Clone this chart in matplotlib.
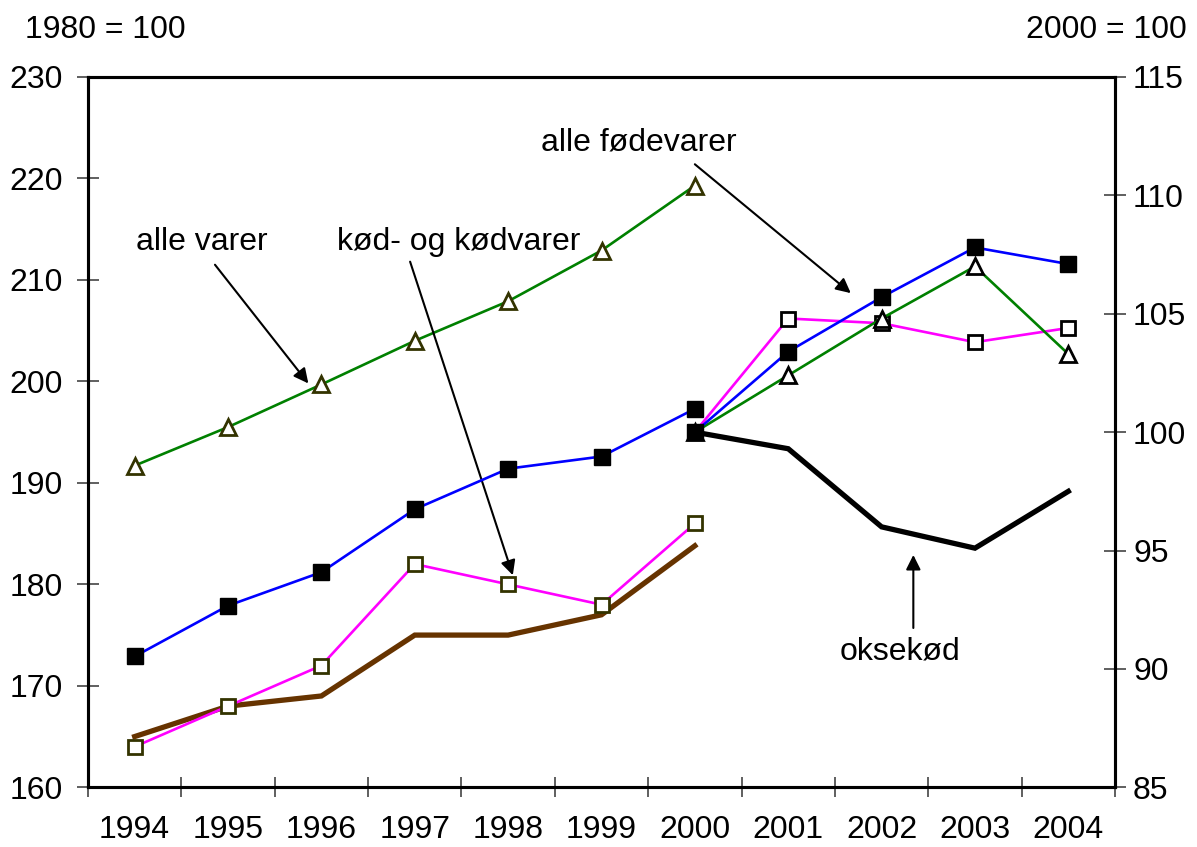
import matplotlib
matplotlib.use("Agg")
import matplotlib.pyplot as plt
import numpy as np

plt.rcParams['font.family'] = ['Liberation Sans', 'DejaVu Sans']

years = ['1994', '1995', '1996', '1997', '1998', '1999', '2000', '2001', '2002', '2003', '2004']

# Left axis (1980 = 100), 1994-2000
alle_varer_l = [191.7, 195.5, 199.7, 204.0, 207.9, 212.9, 219.3]
alle_fodevarer_l = [172.9, 177.9, 181.2, 187.4, 191.4, 192.6, 197.3]
kod_l = [164.0, 168.0, 172.0, 182.0, 180.0, 178.0, 186.0]
oksekod_l = [165.0, 168.0, 169.0, 175.0, 175.0, 177.0, 183.8]

# Right axis (2000 = 100), 2000-2004
alle_varer_r = [100.0, 102.4, 104.8, 107.0, 103.3]
alle_fodevarer_r = [100.0, 103.4, 105.7, 107.8, 107.1]
kod_r = [100.0, 104.8, 104.6, 103.8, 104.4]
oksekod_r = [100.0, 99.3, 96.0, 95.1, 97.5]

fig = plt.figure(figsize=(11.97, 8.47), dpi=100)
ax = fig.add_axes([88/1197, 1-787.3/847, (1115-88)/1197, (787.3-77)/847])
ax2 = ax.twinx()

xl = np.arange(7)
xr = np.arange(6, 11)
edge = '#333300'

ax.plot(xl, oksekod_l, color='#663300', lw=3.8, zorder=2, solid_joinstyle='miter')
ax.plot(xl, alle_varer_l, color='#008000', lw=1.9, marker='^', ms=11.5, mfc='white', mec=edge, mew=2, zorder=3)
ax.plot(xl, kod_l, color='#FF00FF', lw=1.9, marker='s', ms=10.5, mfc='white', mec=edge, mew=2, zorder=3)
ax.plot(xl, alle_fodevarer_l, color='#0000FF', lw=1.9, marker='s', ms=12, mfc='black', mec='black', zorder=4)

ax2.plot(xr, oksekod_r, color='black', lw=3.8, zorder=2, solid_joinstyle='miter')
ax2.plot(xr, kod_r, color='#FF00FF', lw=1.9, marker='s', ms=10.5, mfc='white', mec='black', mew=2, zorder=3)
ax2.plot(xr, alle_varer_r, color='#008000', lw=1.9, marker='^', ms=11.5, mfc='white', mec='black', mew=2, zorder=3)
ax2.plot(xr, alle_fodevarer_r, color='#0000FF', lw=1.9, marker='s', ms=12, mfc='black', mec='black', zorder=4)

ax.set_xlim(-0.5, 10.5)
ax.set_ylim(160, 230)
ax2.set_ylim(85, 115)
ax.set_yticks(np.arange(160, 231, 10))
ax2.set_yticks(np.arange(85, 116, 5))
ax.set_xticks(np.arange(-0.5, 10.6, 1))
ax.set_xticklabels([])
ax.set_xticks(np.arange(11), minor=True)
ax.set_xticklabels(years, minor=True)

fs = 23
ax.tick_params(axis='x', which='major', direction='inout', length=14, width=1.2, color='#444444')
ax.tick_params(axis='x', which='minor', length=0, labelsize=fs, pad=20)
ax.tick_params(axis='y', direction='inout', length=16, width=1.2, labelsize=fs, pad=10, color='#444444')
ax2.tick_params(axis='y', direction='inout', length=16, width=1.2, labelsize=fs, pad=5, color='#444444')

for a in (ax, ax2):
    for s in a.spines.values():
        s.set_linewidth(2.2)
        s.set_color('black')

fig.text(25/1197, 1-30/847, '1980 = 100', fontsize=fs, ha='left', va='center')
fig.text(1187/1197, 1-30/847, '2000 = 100', fontsize=fs, ha='right', va='center')

ap = dict(arrowstyle='-|>', color='black', lw=1.5, mutation_scale=22, shrinkA=0, shrinkB=0)
ax.text(0.72, 213.7, 'alle varer', fontsize=fs, ha='center', va='center')
ax.annotate('', xy=(1.86, 199.8), xytext=(0.86, 211.5), arrowprops=ap)
ax.text(3.47, 213.7, 'kød- og kødvarer', fontsize=fs, ha='center', va='center')
ax.annotate('', xy=(4.05, 180.9), xytext=(2.95, 211.8), arrowprops=ap)
ax.text(5.40, 223.5, 'alle fødevarer', fontsize=fs, ha='center', va='center')
ax.annotate('', xy=(7.67, 208.7), xytext=(6.0, 221.4), arrowprops=ap)
ax.text(8.20, 173.4, 'oksekød', fontsize=fs, ha='center', va='center')
ax.annotate('', xy=(8.34, 182.9), xytext=(8.34, 175.7), arrowprops=ap)

fig.savefig('out.png', dpi=100)
